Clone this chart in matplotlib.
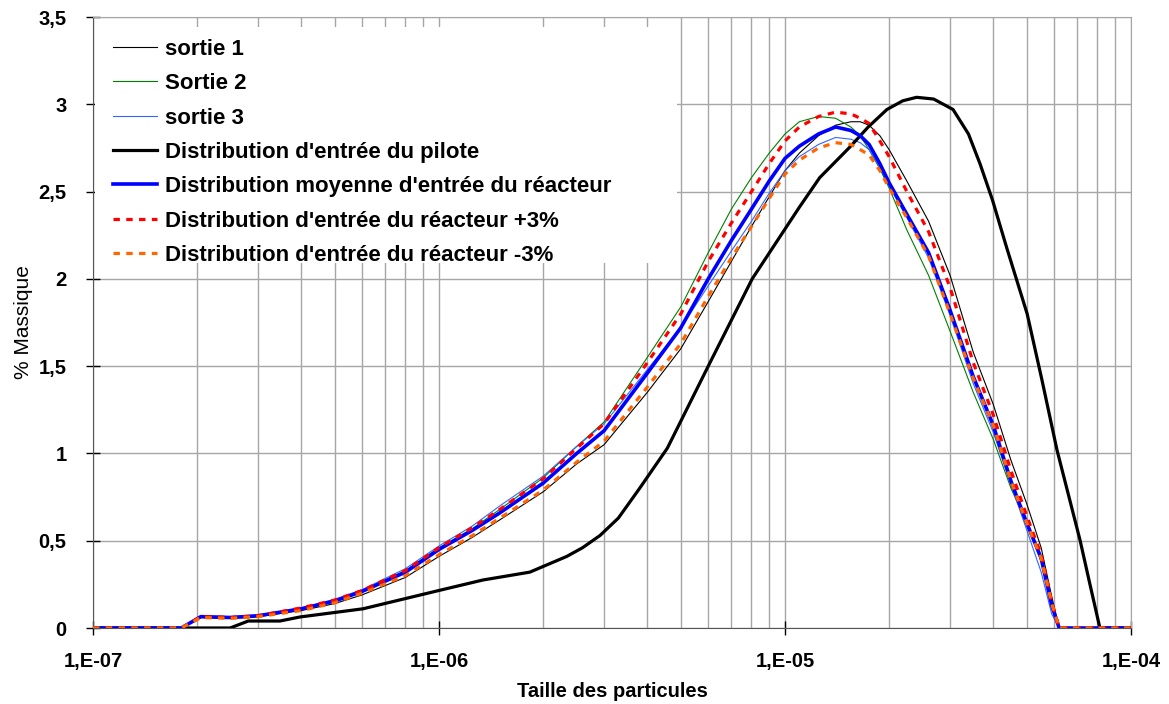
import matplotlib.pyplot as plt
from matplotlib.patches import Rectangle

plt.rcParams['font.family'] = ['Liberation Sans', 'DejaVu Sans']

# grille commune des tailles (m) pour les sorties et les distributions réacteur
taille = [1.0e-7, 1.8e-7, 2.05e-7, 2.5e-7, 3.0e-7, 4.0e-7, 5.0e-7, 6.0e-7, 8.0e-7,
          1.0e-6, 1.25e-6, 1.5e-6, 2.0e-6, 2.5e-6, 3.0e-6, 4.0e-6, 5.0e-6, 6.0e-6,
          7.0e-6, 8.0e-6, 9.0e-6, 1.0e-5, 1.1e-5, 1.25e-5, 1.4e-5, 1.55e-5, 1.65e-5,
          1.75e-5, 1.88e-5, 2.0e-5, 2.25e-5, 2.6e-5, 3.0e-5, 3.5e-5, 4.0e-5, 4.5e-5,
          5.0e-5, 5.5e-5, 5.9e-5, 6.2e-5, 1.0e-4]

sortie1 = [0, 0, 0.06, 0.055, 0.065, 0.10, 0.14, 0.19, 0.29, 0.41, 0.52, 0.62, 0.78,
           0.94, 1.05, 1.35, 1.60, 1.87, 2.10, 2.30, 2.47, 2.62, 2.72, 2.82, 2.88, 2.90,
           2.90, 2.88, 2.82, 2.74, 2.56, 2.33, 2.02, 1.58, 1.28, 0.96, 0.71, 0.46, 0.18, 0, 0]
sortie2 = [0, 0, 0.065, 0.06, 0.07, 0.11, 0.16, 0.215, 0.33, 0.46, 0.57, 0.68, 0.86,
           1.04, 1.18, 1.55, 1.84, 2.15, 2.40, 2.58, 2.72, 2.83, 2.90, 2.93, 2.92, 2.87,
           2.82, 2.74, 2.63, 2.52, 2.28, 2.02, 1.70, 1.35, 1.08, 0.80, 0.60, 0.38, 0.13, 0, 0]
sortie3 = [0, 0, 0.07, 0.065, 0.075, 0.115, 0.165, 0.22, 0.34, 0.47, 0.585, 0.70, 0.87,
           1.04, 1.17, 1.48, 1.72, 1.96, 2.16, 2.33, 2.49, 2.62, 2.70, 2.77, 2.81, 2.80,
           2.78, 2.74, 2.64, 2.53, 2.35, 2.12, 1.79, 1.40, 1.12, 0.82, 0.56, 0.32, 0.08, 0, 0]
moyenne = [0, 0, 0.065, 0.06, 0.07, 0.11, 0.155, 0.21, 0.32, 0.45, 0.56, 0.66, 0.83,
           1.0, 1.13, 1.46, 1.72, 2.0, 2.22, 2.40, 2.56, 2.69, 2.76, 2.83, 2.87, 2.85,
           2.82, 2.77, 2.66, 2.55, 2.37, 2.15, 1.82, 1.44, 1.16, 0.84, 0.60, 0.40, 0.13, 0, 0]
plus3 = [0, 0, 0.065, 0.06, 0.07, 0.115, 0.16, 0.215, 0.33, 0.46, 0.575, 0.68, 0.855,
         1.03, 1.17, 1.52, 1.80, 2.10, 2.32, 2.50, 2.66, 2.79, 2.87, 2.93, 2.955, 2.945,
         2.92, 2.89, 2.79, 2.70, 2.50, 2.27, 1.95, 1.52, 1.22, 0.90, 0.64, 0.42, 0.15, 0, 0]
moins3 = [0, 0, 0.06, 0.055, 0.065, 0.10, 0.145, 0.20, 0.30, 0.42, 0.53, 0.63, 0.79,
          0.95, 1.07, 1.38, 1.63, 1.90, 2.12, 2.30, 2.46, 2.60, 2.68, 2.75, 2.78, 2.77,
          2.74, 2.71, 2.62, 2.52, 2.35, 2.13, 1.80, 1.43, 1.16, 0.84, 0.60, 0.40, 0.14, 0, 0]

taille_pilote = [1.0e-7, 2.49e-7, 2.81e-7, 3.47e-7, 3.96e-7, 6.03e-7, 1.0e-6, 1.34e-6,
                 1.83e-6, 2.34e-6, 2.6e-6, 2.92e-6, 3.3e-6, 3.8e-6, 4.57e-6, 6.07e-6,
                 8.04e-6, 1.10e-5, 1.26e-5, 1.54e-5, 1.74e-5, 1.97e-5, 2.19e-5, 2.40e-5,
                 2.69e-5, 3.06e-5, 3.39e-5, 3.66e-5, 3.98e-5, 4.37e-5, 5.01e-5, 5.53e-5,
                 6.11e-5, 7.13e-5, 7.59e-5, 8.13e-5, 1.0e-4]
pilote = [0, 0, 0.04, 0.04, 0.063, 0.11, 0.215, 0.275, 0.32, 0.41, 0.46, 0.53, 0.63,
          0.80, 1.03, 1.52, 2.0, 2.41, 2.58, 2.755, 2.87, 2.97, 3.02, 3.04, 3.03, 2.97,
          2.83, 2.66, 2.45, 2.18, 1.80, 1.42, 1.02, 0.50, 0.26, 0, 0]

xticks = [1e-7, 1e-6, 1e-5, 1e-4]
xticklabels = ['1,E-07', '1,E-06', '1,E-05', '1,E-04']
yticks = [0, 0.5, 1, 1.5, 2, 2.5, 3, 3.5]
yticklabels = ['0', '0,5', '1', '1,5', '2', '2,5', '3', '3,5']

fig = plt.figure(figsize=(11.69, 7.04), dpi=100)
ax = fig.add_axes([93 / 1169, 1 - 628 / 704, 1038 / 1169, 611 / 704])

ax.plot(taille, sortie1, color='black', lw=0.8, label='sortie 1', zorder=3)
ax.plot(taille, sortie2, color='#008000', lw=0.8, label='Sortie 2', zorder=3)
ax.plot(taille, sortie3, color='#3366ff', lw=0.8, label='sortie 3', zorder=3)
ax.plot(taille_pilote, pilote, color='black', lw=2.3, label="Distribution d'entrée du pilote", zorder=4)
ax.plot(taille, moyenne, color='#0000ff', lw=2.6, label="Distribution moyenne d'entrée du réacteur", zorder=5)
ax.plot(taille, plus3, color='#ff0000', lw=2.3, dashes=(2.0, 2.0),
        label="Distribution d'entrée du réacteur +3%", zorder=6)
ax.plot(taille, moins3, color='#ff6600', lw=2.3, dashes=(2.0, 2.0),
        label="Distribution d'entrée du réacteur -3%", zorder=7)

ax.set_xscale('log')
ax.set_xlim(1e-7, 1e-4)
ax.set_ylim(0, 3.5)
ax.set_xticks(xticks)
ax.set_xticklabels(xticklabels)
ax.set_yticks(yticks)
ax.set_yticklabels(yticklabels)

ax.set_axisbelow(True)
ax.grid(True, which='major', color='#a6a6a6', lw=1.0)
ax.grid(True, which='minor', axis='x', color='#a6a6a6', lw=1.0)
ax.tick_params(axis='both', which='major', direction='inout', length=10, width=1, labelsize=14.5)
ax.tick_params(axis='x', which='major', pad=12)
ax.tick_params(axis='y', which='major', pad=14)
ax.tick_params(axis='x', which='minor', length=0)
for lab in ax.get_xticklabels() + ax.get_yticklabels():
    lab.set_fontweight('bold')

for side in ['top', 'right']:
    ax.spines[side].set_color('#a6a6a6')
for side in ['left', 'bottom']:
    ax.spines[side].set_color('#555555')

ax.set_xlabel('Taille des particules', fontsize=14.5, fontweight='bold', labelpad=8)
ax.set_ylabel('% Massique', fontsize=15, labelpad=4)

# fond blanc de la légende (style Excel)
ax.add_patch(Rectangle((0.002, 0.5974), 0.561, 0.3862, transform=ax.transAxes,
                       facecolor='white', edgecolor='none', zorder=2))
leg = ax.legend(loc='upper left', bbox_to_anchor=(0.0106, 0.9787), borderaxespad=0,
                frameon=False, prop={'size': 16, 'weight': 'bold'},
                handlelength=2.0, handletextpad=0.36, labelspacing=0.6, borderpad=0.4)

fig.savefig('out.png', dpi=100)
